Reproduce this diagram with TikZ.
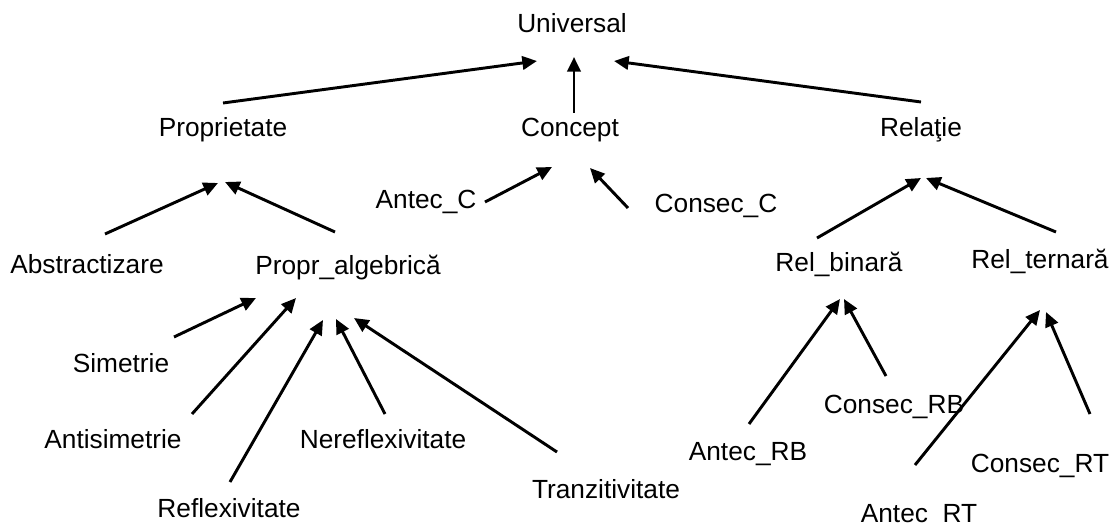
\documentclass[tikz,border=0pt]{standalone}
\usepackage{fontspec}
\setmainfont{Liberation Sans}
\usetikzlibrary{arrows.meta}
\begin{document}
\begin{tikzpicture}[x=0.75pt,y=-0.75pt,
  lbl/.style={anchor=base,inner sep=0pt,font=\fontsize{19.7}{23}\selectfont},
  arr/.style={line width=2.2pt,-{Triangle[length=11pt,width=10pt]}}]
\useasboundingbox (0,0) rectangle (1118,524);
\clip (0,0) rectangle (1118,524);

% labels (centre x, baseline y)
\node[lbl] (univ)  at (572,33)  {Universal};
\node[lbl] (prop)  at (223,137) {Proprietate};
\node[lbl] (conc)  at (570,137) {Concept};
\node[lbl] (rel)   at (921,137) {Relaţie};
\node[lbl] (antc)  at (426,209) {Antec\_C};
\node[lbl] (consc) at (716,213) {Consec\_C};
\node[lbl] (abst)  at (87,273)  {Abstractizare};
\node[lbl] (palg)  at (348,275) {Propr\_algebrică};
\node[lbl] (rbin)  at (839,272) {Rel\_binară};
\node[lbl] (rter)  at (1040,268) {Rel\_ternară};
\node[lbl] (sim)   at (121,372) {Simetrie};
\node[lbl] (asim)  at (113,448) {Antisimetrie};
\node[lbl] (nref)  at (383,448) {Nereflexivitate};
\node[lbl] (tranz) at (606,498) {Tranzitivitate};
\node[lbl] (refl)  at (229,517) {Reflexivitate};
\node[lbl] (crb)   at (894,413) {Consec\_RB};
\node[lbl] (arb)   at (748,460) {Antec\_RB};
\node[lbl] (crt)   at (1040,472) {Consec\_RT};
\node[lbl] (art)   at (919,522) {Antec\_RT};

% connector ends
\coordinate (pu-a) at (223,103); \coordinate (pu-b) at (537,61);
\coordinate (cu-a) at (574,113); \coordinate (cu-b) at (574,57);
\coordinate (ru-a) at (921,102); \coordinate (ru-b) at (614,61);
\coordinate (ap-a) at (105,234); \coordinate (ap-b) at (218,183);
\coordinate (gp-a) at (335,232); \coordinate (gp-b) at (225,182);
\coordinate (ac-a) at (485,202); \coordinate (ac-b) at (552,167);
\coordinate (cc-a) at (628,208); \coordinate (cc-b) at (590,168);
\coordinate (br-a) at (817,238); \coordinate (br-b) at (921,178);
\coordinate (tr-a) at (1056,232); \coordinate (tr-b) at (926,178);
\coordinate (sg-a) at (174,337); \coordinate (sg-b) at (256,298);
\coordinate (ag-a) at (192,414); \coordinate (ag-b) at (296,298);
\coordinate (fg-a) at (230,482); \coordinate (fg-b) at (323,320);
\coordinate (ng-a) at (385,414); \coordinate (ng-b) at (336,319);
\coordinate (zg-a) at (557,452); \coordinate (zg-b) at (354,318);
\coordinate (ab-a) at (749,424); \coordinate (ab-b) at (840,299);
\coordinate (cb-a) at (886,376); \coordinate (cb-b) at (844,299);
\coordinate (at-a) at (915,465); \coordinate (at-b) at (1040,310);
\coordinate (ct-a) at (1090,414); \coordinate (ct-b) at (1046,312);

% connectors
\foreach \e in {pu,cu,ru,ap,gp,ac,cc,br,tr,sg,ag,fg,ng,zg,ab,cb,at,ct}
  \draw[arr] (\e-a) -- (\e-b);
\end{tikzpicture}
\end{document}
